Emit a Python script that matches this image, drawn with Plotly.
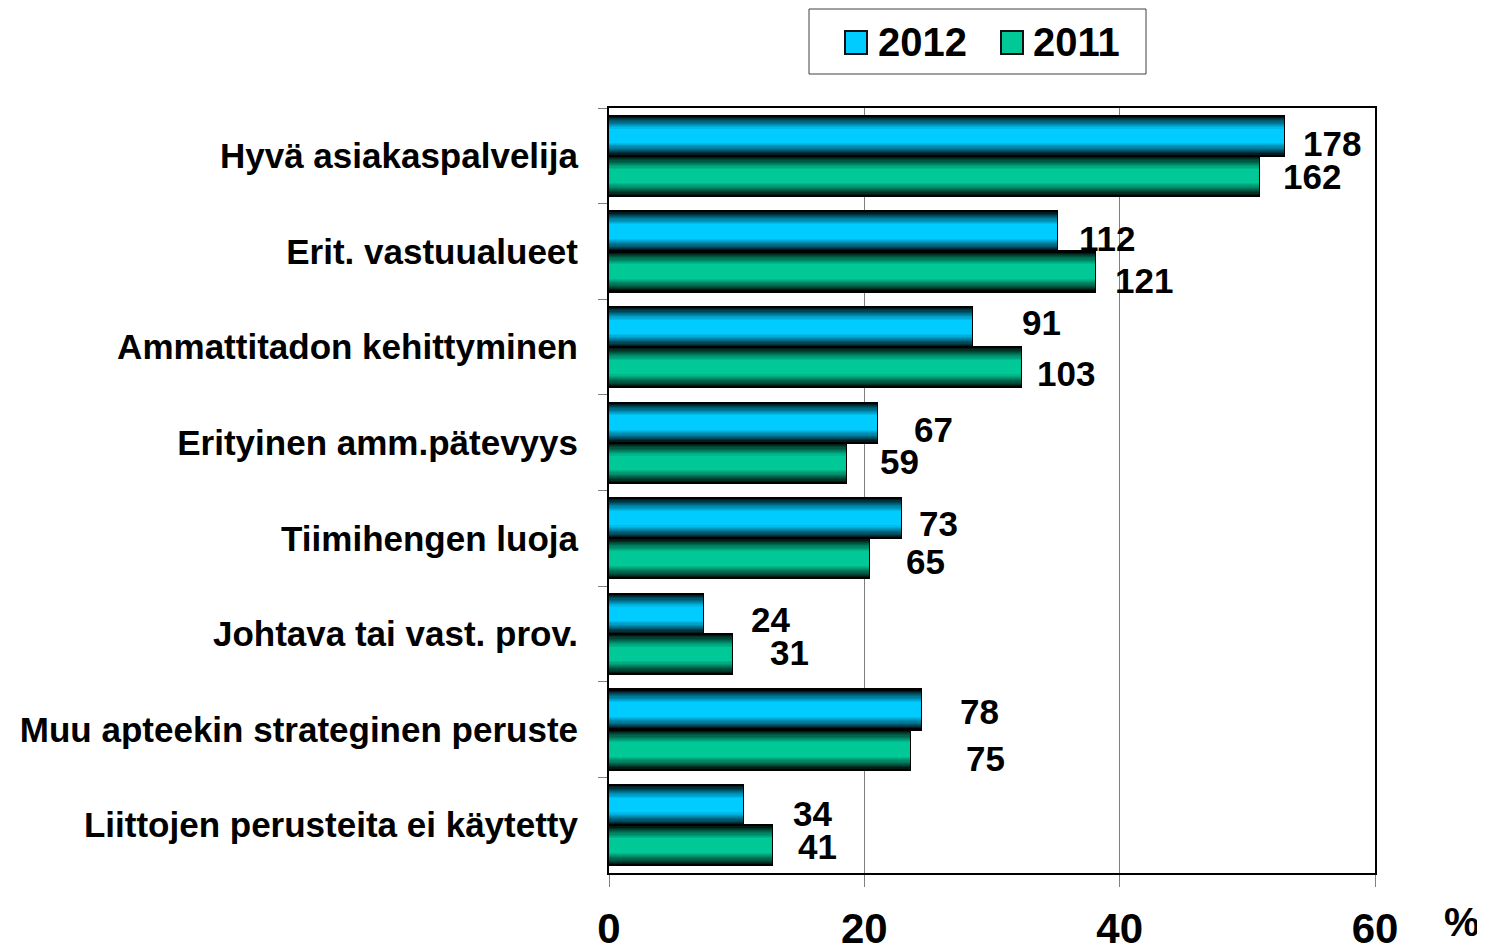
import plotly.graph_objects as go

# ---------------- data ----------------
categories = [
    "Hyvä asiakaspalvelija",
    "Erit. vastuualueet",
    "Ammattitadon kehittyminen",
    "Erityinen amm.pätevyys",
    "Tiimihengen luoja",
    "Johtava tai vast. prov.",
    "Muu apteekin strateginen peruste",
    "Liittojen perusteita ei käytetty",
]
pct_2012 = [52.9, 35.1, 28.4, 21.0, 22.9, 7.4, 24.4, 10.5]
pct_2011 = [50.9, 38.1, 32.3, 18.6, 20.4, 9.6, 23.6, 12.8]
n_2012 = [178, 112, 91, 67, 73, 24, 78, 34]
n_2011 = [162, 121, 103, 59, 65, 31, 75, 41]
series_names = ["2012", "2011"]
x_ticks = [0, 20, 40, 60]

# ---------------- style ----------------
FONT = "Liberation Sans, Arial, sans-serif"
COL_2012 = (0, 204, 255)
COL_2011 = (0, 200, 150)
BAR_W = 0.42
N_LAYERS = 12

# label offsets in px (dx right, dy down) relative to bar end / category centre
lab_dx_2012 = [17, 20, 48, 35, 16, 46, 37, 48]
lab_dy_2012 = [-12, -13, -25, -13, -15, -14, -18, -12]
lab_dx_2011 = [22, 18, 14, 32, 35, 36, 54, 24]
lab_dy_2011 = [21, 29, 26, 19, 23, 19, 29, 21]

# page geometry (browser body has an 8px margin)
W, H, OFF = 1485, 946, 8
PL, PR, PT, PB = 609, 1375, 108, 873   # plot area in window pixels


def px(x):
    return (x - PL) / (PR - PL)


def py(y):
    return (PB - y) / (PB - PT)


def shade(rgb, t):
    return "rgb(%d,%d,%d)" % tuple(int(round(c * t)) for c in rgb)


fig = go.Figure()

for vals, rgb, centre in ((pct_2012, COL_2012, -BAR_W / 2), (pct_2011, COL_2011, BAR_W / 2)):
    for k in range(N_LAYERS):
        f = 1.0 - 0.64 * k / (N_LAYERS - 1)
        t = 0.0 if k == 0 else 0.14 + 0.86 * ((k - 1) / (N_LAYERS - 2)) ** 0.9
        w = BAR_W * f
        fig.add_trace(go.Bar(
            x=vals, y=categories, orientation="h",
            width=[w] * len(vals), offset=[centre - w / 2] * len(vals),
            marker=dict(color=shade(rgb, t),
                        line=dict(color="black", width=2 if k == 0 else 0)),
            showlegend=False, hoverinfo="skip",
        ))

annotations = []
for vals, ns, dxs, dys in ((pct_2012, n_2012, lab_dx_2012, lab_dy_2012),
                           (pct_2011, n_2011, lab_dx_2011, lab_dy_2011)):
    for cat, v, n, dx, dy in zip(categories, vals, ns, dxs, dys):
        annotations.append(dict(
            x=v, y=cat, xref="x", yref="y", text=str(n), showarrow=False,
            xanchor="left", yanchor="middle", xshift=dx, yshift=-dy,
            font=dict(family=FONT, size=35, color="black", weight="bold"),
        ))

# percent sign
annotations.append(dict(
    x=px(1462), y=py(922), xref="paper", yref="paper", text="%", showarrow=False,
    xanchor="center", yanchor="middle",
    font=dict(family=FONT, size=40, color="black", weight="bold"),
))

# manual legend
shapes = [dict(type="rect", xref="paper", yref="paper",
               x0=px(809), x1=px(1146), y0=py(74), y1=py(9),
               line=dict(color="#404040", width=1), fillcolor="white", layer="above")]
leg_items = [(series_names[0], COL_2012, 845, 876), (series_names[1], COL_2011, 1001, 1031)]
for name, rgb, sx, tx in leg_items:
    shapes.append(dict(type="rect", xref="paper", yref="paper",
                       x0=px(sx), x1=px(sx + 22), y0=py(54), y1=py(31),
                       line=dict(color="#101010", width=2), fillcolor=shade(rgb, 1.0),
                       layer="above"))
    annotations.append(dict(
        x=px(tx), y=py(42), xref="paper", yref="paper", text=name, showarrow=False,
        xanchor="left", yanchor="middle",
        font=dict(family=FONT, size=40, color="black", weight="bold"),
    ))

fig.update_layout(
    width=W - OFF, height=H - OFF,
    margin=dict(l=PL - OFF, r=W - PR, t=PT - OFF, b=H - PB, pad=0, autoexpand=False),
    paper_bgcolor="white", plot_bgcolor="white",
    barmode="overlay", bargap=0,
    showlegend=False,
    annotations=annotations, shapes=shapes,
    font=dict(family=FONT, color="black"),
)
fig.update_xaxes(
    range=[0, 60], tickvals=x_ticks, ticktext=[str(v) for v in x_ticks],
    showgrid=True, gridcolor="#808080", gridwidth=1,
    showline=True, linecolor="black", linewidth=2, mirror=True,
    ticks="outside", ticklen=12, tickcolor="#808080", tickwidth=1,
    tickfont=dict(family=FONT, size=42, color="black", weight="bold"),
    ticklabelstandoff=6, zeroline=False, automargin=False,
)
fig.update_yaxes(
    autorange="reversed", type="category",
    showline=True, linecolor="black", linewidth=2, mirror=True,
    ticks="outside", ticklen=9, tickcolor="#808080", tickwidth=1,
    tickson="boundaries",
    tickfont=dict(family=FONT, size=35, color="black", weight="bold"),
    ticklabelstandoff=22, showgrid=False, automargin=False,
)

fig.write_html("out.html")
